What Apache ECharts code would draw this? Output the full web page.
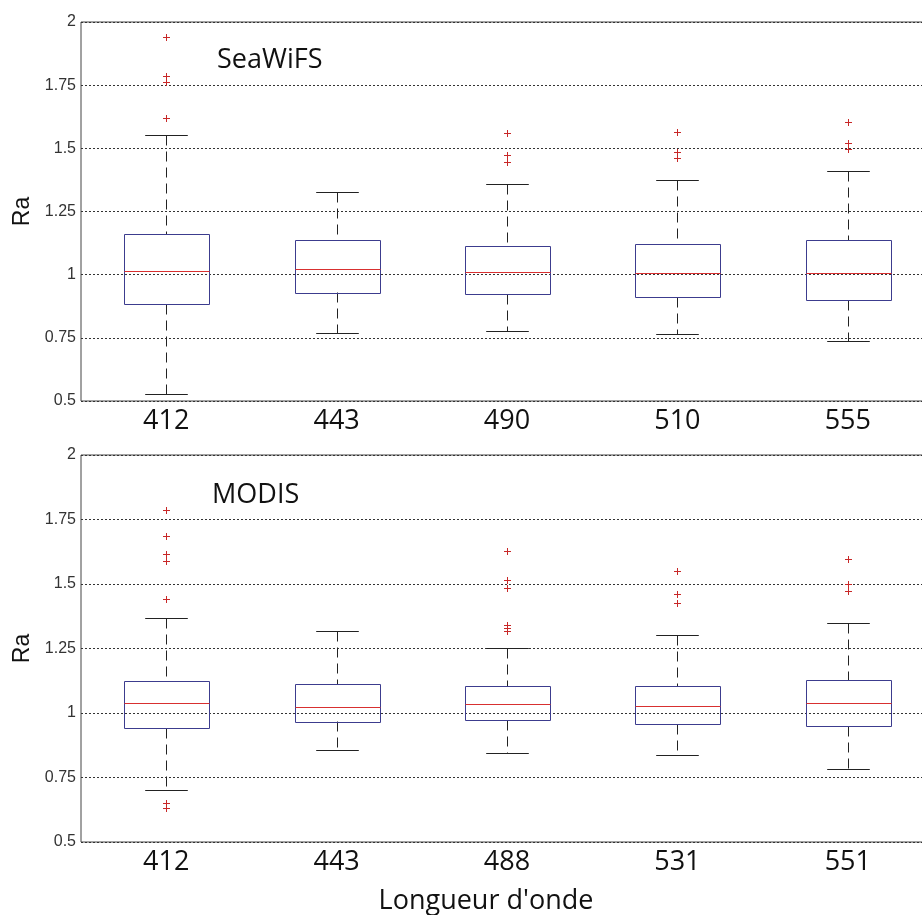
<!DOCTYPE html>
<html>
<head>
<meta charset="utf-8">
<script src="https://cdn.jsdelivr.net/npm/echarts@6/dist/echarts.min.js"></script>
<style>html,body{margin:0;padding:0;background:#fff}#c{width:922px;height:915px}</style>
</head>
<body>
<div id="c"></div>
<script>
// ---- Data ----
const seaCats = ['412', '443', '490', '510', '555'];
const seaLow  = [0.527, 0.768, 0.778, 0.767, 0.736];
const seaQ1   = [0.883, 0.930, 0.925, 0.913, 0.900];
const seaMed  = [1.015, 1.023, 1.009, 1.008, 1.008];
const seaQ3   = [1.160, 1.139, 1.115, 1.123, 1.139];
const seaHigh = [1.553, 1.329, 1.359, 1.373, 1.412];
const seaOutliers = [
  [0, 1.939], [0, 1.788], [0, 1.762], [0, 1.619],
  [2, 1.560], [2, 1.474], [2, 1.447],
  [3, 1.566], [3, 1.487], [3, 1.460],
  [4, 1.603], [4, 1.520], [4, 1.496]
];

const modCats = ['412', '443', '488', '531', '551'];
const modLow  = [0.703, 0.857, 0.845, 0.836, 0.782];
const modQ1   = [0.941, 0.968, 0.973, 0.957, 0.950];
const modMed  = [1.040, 1.022, 1.034, 1.026, 1.038];
const modQ3   = [1.125, 1.114, 1.106, 1.106, 1.128];
const modHigh = [1.367, 1.318, 1.251, 1.304, 1.350];
const modOutliers = [
  [0, 1.786], [0, 1.686], [0, 1.616], [0, 1.590], [0, 1.443], [0, 0.650], [0, 0.630],
  [2, 1.627], [2, 1.516], [2, 1.484], [2, 1.341], [2, 1.331], [2, 1.319],
  [3, 1.549], [3, 1.463], [3, 1.428],
  [4, 1.598], [4, 1.501], [4, 1.472]
];

const yTicks = [0.5, 0.75, 1, 1.25, 1.5, 1.75, 2];

// ---- Build ----
function boxRows(low, q1, med, q3, high) {
  return low.map((v, i) => [i, low[i], q1[i], med[i], q3[i], high[i]]);
}

const BOX_COLOR = '#3c3c8e';
const MED_COLOR = '#d83030';
const WHISK_COLOR = '#222';
const OUT_COLOR = '#c82828';

function renderBox(params, api) {
  const i = api.value(0);
  const pLow = api.coord([i, api.value(1)]);
  const pQ1 = api.coord([i, api.value(2)]);
  const pMed = api.coord([i, api.value(3)]);
  const pQ3 = api.coord([i, api.value(4)]);
  const pHigh = api.coord([i, api.value(5)]);
  const bw = api.size([1, 0])[0];
  const half = bw * 0.25;
  const cap = bw * 0.125;
  const x = Math.round(pMed[0]) + 0.5;
  const r = v => Math.round(v) + 0.5;
  const dash = { stroke: WHISK_COLOR, lineWidth: 1, lineDash: [10, 6] };
  const solid = { stroke: WHISK_COLOR, lineWidth: 1 };
  return {
    type: 'group',
    children: [
      { type: 'line', shape: { x1: x, y1: r(pHigh[1]), x2: x, y2: r(pQ3[1]) }, style: dash },
      { type: 'line', shape: { x1: x, y1: r(pQ1[1]), x2: x, y2: r(pLow[1]) }, style: dash },
      { type: 'line', shape: { x1: x - cap, y1: r(pHigh[1]), x2: x + cap, y2: r(pHigh[1]) }, style: solid },
      { type: 'line', shape: { x1: x - cap, y1: r(pLow[1]), x2: x + cap, y2: r(pLow[1]) }, style: solid },
      { type: 'rect', shape: { x: r(x - half), y: r(pQ3[1]), width: Math.round(2 * half), height: Math.round(pQ1[1] - pQ3[1]) },
        style: { stroke: BOX_COLOR, fill: null, lineWidth: 1 } },
      { type: 'line', shape: { x1: r(x - half), y1: r(pMed[1]), x2: r(x - half) + Math.round(2 * half), y2: r(pMed[1]) },
        style: { stroke: MED_COLOR, lineWidth: 1 } }
    ]
  };
}

function renderOutlier(params, api) {
  const p = api.coord([api.value(0), api.value(1)]);
  const x = Math.round(p[0]) + 0.5, y = Math.round(p[1]) + 0.5, s = 3.5;
  const st = { stroke: OUT_COLOR, lineWidth: 1 };
  return {
    type: 'group',
    children: [
      { type: 'line', shape: { x1: x - s, y1: y, x2: x + s, y2: y }, style: st },
      { type: 'line', shape: { x1: x, y1: y - s, x2: x, y2: y + s }, style: st }
    ]
  };
}

function yAxisDef(gridIndex) {
  return {
    type: 'value', gridIndex: gridIndex,
    min: yTicks[0], max: yTicks[yTicks.length - 1], interval: 0.25,
    name: 'Ra', nameLocation: 'middle', nameRotate: 90, nameGap: 47,
    nameTextStyle: { fontFamily: 'Liberation Sans', fontSize: 23, color: '#111' },
    axisLine: { show: false }, axisTick: { show: false },
    axisLabel: { fontFamily: 'Liberation Sans', fontSize: 16, color: '#333', margin: 5,
      formatter: v => String(+v.toFixed(2)) },
    splitLine: { show: true, lineStyle: { color: '#333', width: 1, type: [2, 2] } }
  };
}

function xAxisDef(gridIndex, cats, withName) {
  const ax = {
    type: 'category', gridIndex: gridIndex, data: cats,
    axisLine: { show: false }, axisTick: { show: false },
    axisLabel: { fontFamily: 'Open Sans', fontSize: 27, color: '#111', margin: 7 },
    splitLine: { show: false }
  };
  if (withName) {
    ax.name = "Longueur d'onde";
    ax.nameLocation = 'middle';
    ax.nameGap = 46;
    ax.nameTextStyle = { fontFamily: 'Open Sans', fontSize: 27, color: '#111', padding: [0, 42, 0, 0] };
  }
  return ax;
}

const chart = echarts.init(document.getElementById('c'), null, { renderer: 'canvas' });
chart.setOption({
  backgroundColor: '#fff',
  animation: false,
  grid: [
    { left: 81, top: 22, width: 852, height: 379, show: true, borderColor: '#444', borderWidth: 1, backgroundColor: '#fff', outerBoundsMode: 'none', containLabel: false },
    { left: 81, top: 455, width: 852, height: 387, show: true, borderColor: '#444', borderWidth: 1, backgroundColor: '#fff', outerBoundsMode: 'none', containLabel: false }
  ],
  xAxis: [xAxisDef(0, seaCats, false), xAxisDef(1, modCats, true)],
  yAxis: [yAxisDef(0), yAxisDef(1)],
  graphic: [
    { type: 'text', x: 217, y: 60, style: { text: 'SeaWiFS', font: '27px "Open Sans"', fill: '#111', textVerticalAlign: 'middle' } },
    { type: 'text', x: 212, y: 495, style: { text: 'MODIS', font: '27px "Open Sans"', fill: '#111', textVerticalAlign: 'middle' } }
  ],
  series: [
    { type: 'custom', xAxisIndex: 0, yAxisIndex: 0, renderItem: renderBox, data: boxRows(seaLow, seaQ1, seaMed, seaQ3, seaHigh), encode: { x: 0, y: [1, 2, 3, 4, 5] }, clip: false },
    { type: 'custom', xAxisIndex: 0, yAxisIndex: 0, renderItem: renderOutlier, data: seaOutliers, encode: { x: 0, y: 1 } },
    { type: 'custom', xAxisIndex: 1, yAxisIndex: 1, renderItem: renderBox, data: boxRows(modLow, modQ1, modMed, modQ3, modHigh), encode: { x: 0, y: [1, 2, 3, 4, 5] }, clip: false },
    { type: 'custom', xAxisIndex: 1, yAxisIndex: 1, renderItem: renderOutlier, data: modOutliers, encode: { x: 0, y: 1 } }
  ]
});
</script>
</body>
</html>
